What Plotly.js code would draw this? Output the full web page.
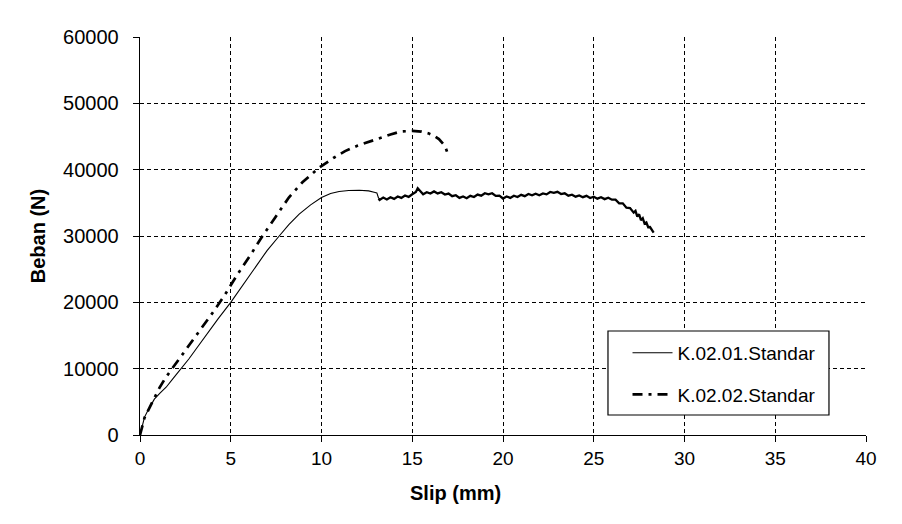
<!DOCTYPE html>
<html>
<head>
<meta charset="utf-8">
<script src="https://cdn.plot.ly/plotly-3.0.1.min.js"></script>
<style>
html,body{margin:0;padding:0;background:#fff;}
#chart{width:902px;height:524px;}
</style>
</head>
<body>
<div id="chart"></div>
<script>
// Series names
const seriesNames = ["K.02.01.Standar", "K.02.02.Standar"];

// K.02.01.Standar – smooth loading branch (slip mm, load N)
const slip1a = [0, 0.08, 0.15, 0.25, 0.42, 0.6, 0.79, 1.1, 1.44, 1.85, 2.27, 2.7, 3.1, 3.7, 4.3, 5.0, 5.7, 6.38, 7.0, 7.67, 8.2, 8.77, 9.4, 10.0, 10.5, 10.97, 11.5, 12.08, 12.6, 12.9, 13.05, 13.15];
const load1a = [0, 1000, 1700, 2700, 3600, 4500, 5400, 6300, 7200, 8600, 10000, 11500, 13000, 15300, 17500, 20000, 22700, 25400, 27800, 30000, 31700, 33300, 34700, 35800, 36400, 36700, 36850, 36900, 36800, 36600, 36500, 35650];

// K.02.01.Standar – noisy plateau and descending branch
const slip1b = [13.15, 13.2, 13.4, 13.6, 13.8, 14.0, 14.2, 14.4, 14.6, 14.8, 15.0, 15.2, 15.3, 15.4, 15.6, 15.8, 16.0, 16.2, 16.4, 16.6, 16.8, 17.0, 17.2, 17.4, 17.6, 17.8, 18.0, 18.2, 18.4, 18.6, 18.8, 19.0, 19.2, 19.4, 19.6, 19.8, 20.0, 20.2, 20.4, 20.6, 20.8, 21.0, 21.2, 21.4, 21.6, 21.8, 22.0, 22.2, 22.4, 22.6, 22.8, 23.0, 23.2, 23.4, 23.6, 23.8, 24.0, 24.2, 24.4, 24.6, 24.8, 25.0, 25.2, 25.4, 25.6, 25.8, 26.0, 26.2, 26.4, 26.6, 26.8, 27.0, 27.2, 27.3, 27.4, 27.5, 27.6, 27.7, 27.8, 27.9, 28.0, 28.1, 28.2, 28.3];
const load1b = [35650, 35450, 35800, 35500, 35850, 35600, 35950, 35750, 36100, 35900, 36300, 36650, 37200, 36850, 36300, 36600, 36400, 36720, 36420, 36600, 36250, 36400, 36000, 36150, 35750, 35950, 35700, 36050, 35880, 36250, 36080, 36450, 36280, 36450, 36050, 36080, 35650, 35950, 35750, 36080, 35880, 36200, 36000, 36330, 36130, 36380, 36150, 36420, 36280, 36640, 36500, 36660, 36330, 36440, 36080, 36220, 35930, 36120, 35850, 36050, 35730, 35920, 35630, 35850, 35560, 35770, 35480, 35480, 34920, 34930, 34270, 34200, 33520, 33780, 32920, 33280, 32380, 32680, 31870, 32030, 31320, 31350, 30820, 30500];

// K.02.02.Standar
const slip2 = [0, 0.1, 0.25, 0.52, 0.8, 1.07, 1.4, 1.77, 2.15, 2.51, 2.9, 3.25, 3.6, 4.1, 4.69, 5.37, 6.1, 6.75, 7.45, 8.2, 8.95, 9.87, 10.68, 11.3, 11.97, 12.6, 13.16, 13.8, 14.36, 15.0, 15.5, 15.92, 16.2, 16.47, 16.7, 16.84, 16.93];
const load2 = [0, 1200, 2600, 4100, 5700, 7100, 8600, 10000, 11400, 12700, 14100, 15400, 16800, 18800, 21200, 24200, 27200, 30000, 32800, 35800, 38100, 40300, 41800, 42800, 43600, 44200, 44800, 45300, 45750, 45850, 45750, 45450, 45100, 44600, 43900, 43300, 42600];

// Axis ticks and titles
const xTicks = [0, 5, 10, 15, 20, 25, 30, 35, 40];
const yTicks = [0, 10000, 20000, 30000, 40000, 50000, 60000];
const xTitle = "Slip (mm)";
const yTitle = "Beban (N)";

const FONT = "Liberation Sans, Arial, sans-serif";

const traces = [
  {x: slip1a, y: load1a, name: seriesNames[0], mode: "lines", legendgroup: "g1",
   line: {color: "#000", width: 1.1}},
  {x: slip1b, y: load1b, name: seriesNames[0], mode: "lines", legendgroup: "g1", showlegend: false,
   line: {color: "#000", width: 2.3}},
  {x: slip2, y: load2, name: seriesNames[1], mode: "lines", legendgroup: "g2",
   line: {color: "#000", width: 2.7, dash: "10px,6px,3px,6px"}}
];

const layout = {
  width: 902, height: 524,
  margin: {l: 140, r: 36, t: 37, b: 89},
  paper_bgcolor: "#fff", plot_bgcolor: "#fff",
  font: {family: FONT, size: 19, color: "#000"},
  showlegend: true,
  legend: {
    x: 0.6715, y: 0.254, xanchor: "left", yanchor: "top",
    bgcolor: "rgba(0,0,0,0)", borderwidth: 0,
    font: {family: FONT, size: 19, color: "#000"},
    traceorder: "grouped", tracegroupgap: 14, itemwidth: 40
  },
  xaxis: {
    range: [0, 40], tickvals: xTicks, ticktext: xTicks.map(String),
    showline: true, linecolor: "#000", linewidth: 1.3, mirror: false,
    ticks: "outside", ticklen: 6, tickcolor: "#000", tickwidth: 1,
    showgrid: true, gridcolor: "#000", gridwidth: 1, griddash: "4px,3px",
    zeroline: false, tickfont: {family: FONT, size: 19}
  },
  yaxis: {
    range: [0, 60000], tickvals: yTicks, ticktext: yTicks.map(String),
    showline: true, linecolor: "#000", linewidth: 1.3, mirror: false,
    ticks: "outside", ticklen: 6, tickcolor: "#000", tickwidth: 1,
    ticklabelstandoff: 10,
    showgrid: true, gridcolor: "#000", gridwidth: 1, griddash: "4px,3px",
    zeroline: false, tickfont: {family: FONT, size: 20},
    title: {text: "<b>" + yTitle + "</b>", font: {family: FONT, size: 20}, standoff: 12}
  },
  annotations: [{
    text: "<b>" + xTitle + "</b>", xref: "paper", yref: "paper",
    x: 0.434, y: -0.146, xanchor: "center", yanchor: "middle",
    showarrow: false, font: {family: FONT, size: 20, color: "#000"}
  }],
  shapes: [{
    type: "rect", xref: "paper", yref: "paper",
    x0: 0.6446, x1: 0.949, y0: 0.0503, y1: 0.2613,
    fillcolor: "#fff", line: {color: "#000", width: 1.2}, layer: "above"
  }]
};

Plotly.newPlot("chart", traces, layout, {displayModeBar: false, staticPlot: true});
</script>
</body>
</html>
